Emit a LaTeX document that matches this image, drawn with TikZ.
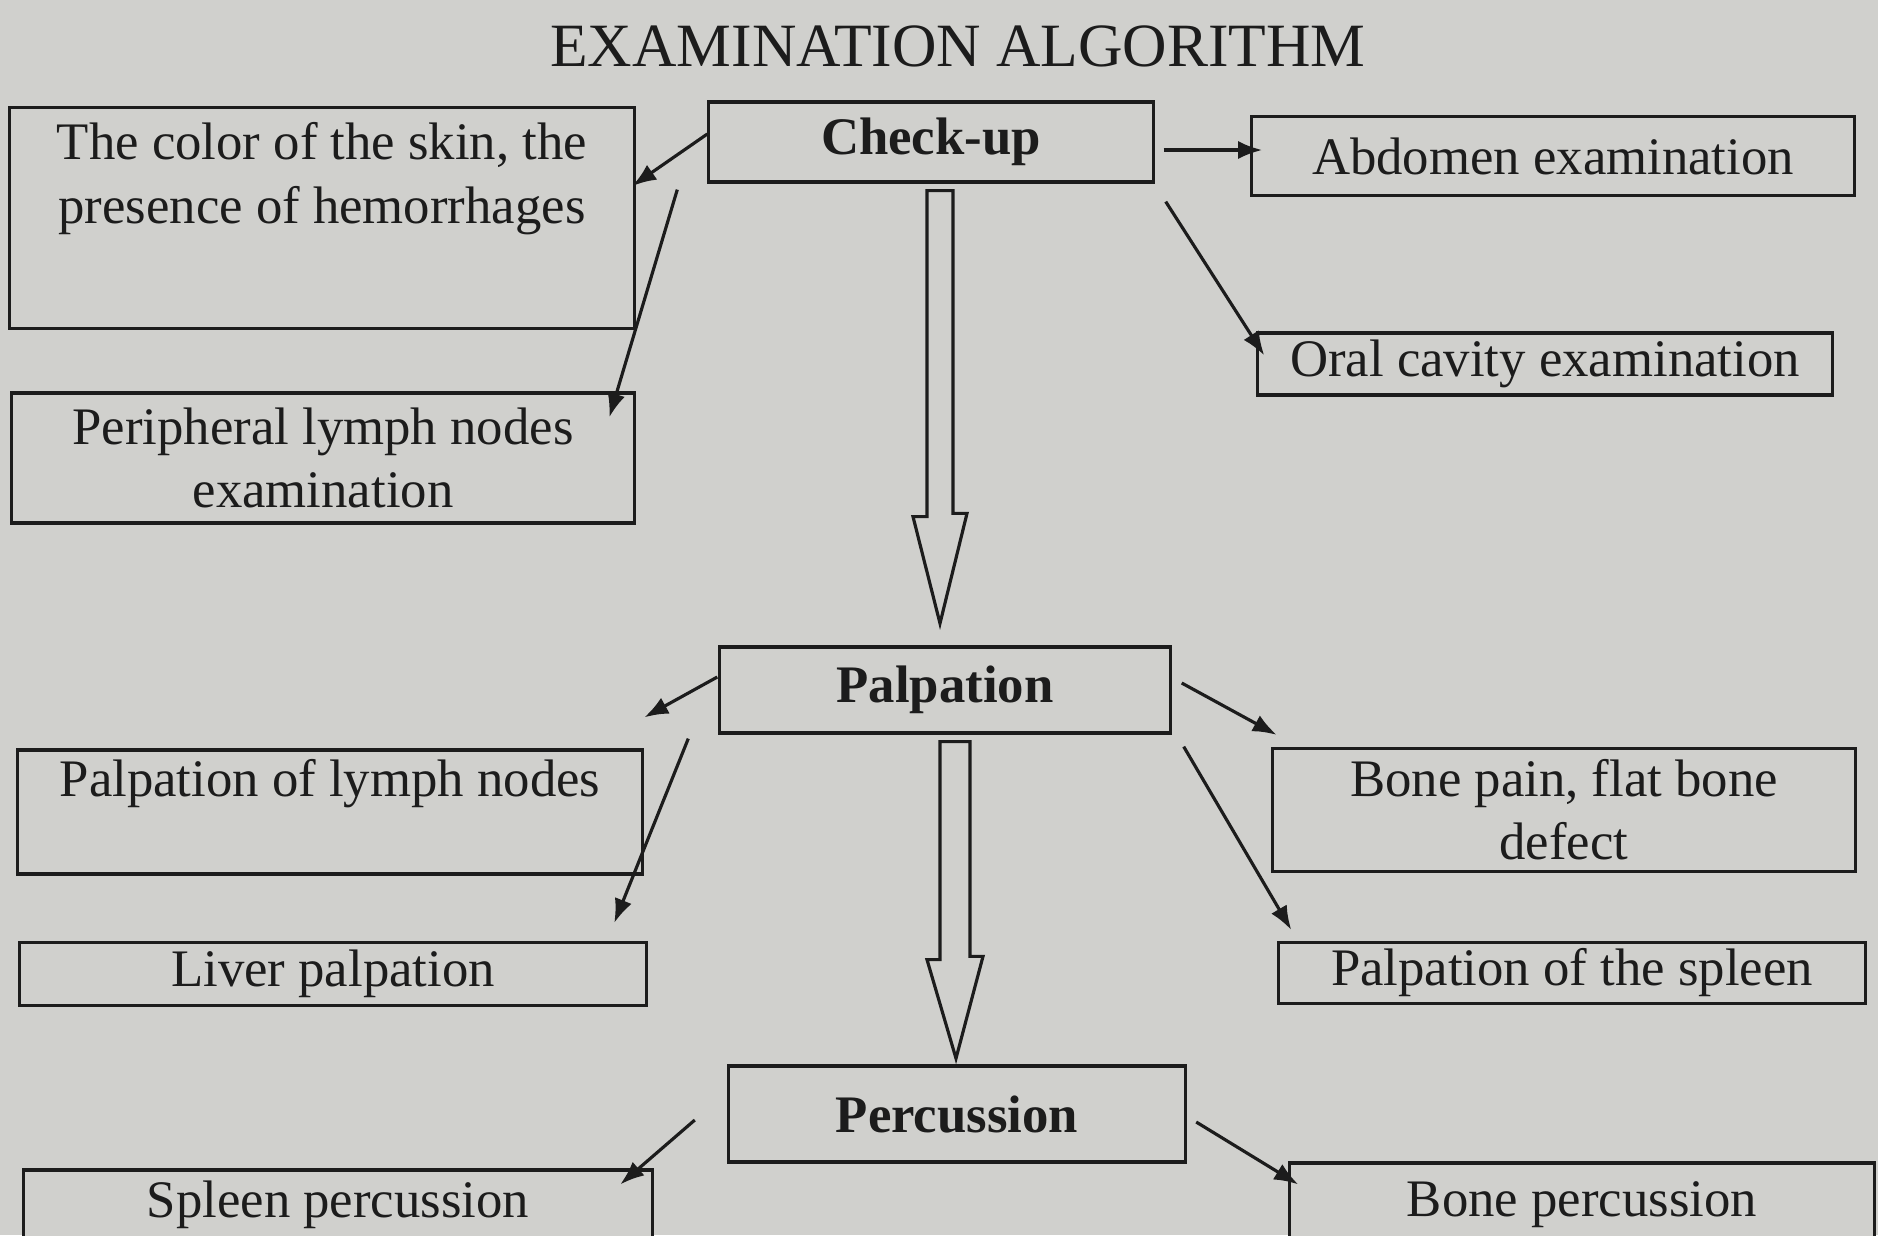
\documentclass[tikz,border=0pt]{standalone}
\usepackage{fontspec}
\setmainfont{Liberation Serif}
\usepackage{xcolor}
\usepackage{tikz}
\usetikzlibrary{arrows.meta,calc}
\definecolor{paper}{RGB}{208,208,205}
\definecolor{ink}{RGB}{28,28,28}

\begin{document}
\begin{tikzpicture}[
  x=0.01cm, y=-0.01cm,
  box/.style={draw=ink, line width=0.9pt, rectangle, fill=paper, inner sep=0pt, align=center, text=ink, font=\fontsize{15}{18}\selectfont},
  boldbox/.style={box, font=\bfseries\fontsize{15}{18}\selectfont},
  boxtext/.style={inner sep=0pt, align=center, text=ink, font=\fontsize{15}{18}\selectfont},
  arrow/.style={-{Latex[length=2.4mm,width=1.8mm]}, line width=0.9pt, draw=ink},
  hollow/.style={draw=ink, line width=0.9pt, fill=paper, line join=miter}
]
\path[use as bounding box, fill=paper] (0,0) rectangle (1878,1235);
\clip (0,0) rectangle (1878,1235);

\node[text=ink, font=\fontsize{17.5}{21}\selectfont] (title) at (958,46) {EXAMINATION ALGORITHM};

\node[boldbox, minimum width=4.44cm, minimum height=0.80cm] (chk) at (931,142) {Check-up};
\node[box, minimum width=6.25cm, minimum height=2.21cm] (skin) at (322,218) {};
\node[boxtext, anchor=north] (skintxt) at ($(skin.north)+(0,16)$) {The color of the skin, the\\presence of hemorrhages};
\node[box, minimum width=6.23cm, minimum height=1.30cm] (per) at (323,458) {Peripheral lymph nodes\\examination};
\node[box, minimum width=6.02cm, minimum height=0.79cm] (abd) at (1553,156) {Abdomen examination};
\node[box, minimum width=5.74cm, minimum height=0.62cm] (oral) at (1545,364) {Oral cavity examination};

\node[boldbox, minimum width=4.50cm, minimum height=0.86cm] (palp) at (945,690) {Palpation};
\node[box, minimum width=6.25cm, minimum height=1.24cm] (plym) at (330,812) {};
\node[boxtext, anchor=north] (plymtxt) at ($(plym.north)+(0,10)$) {Palpation of lymph nodes};
\node[box, minimum width=6.27cm, minimum height=0.63cm] (liver) at (333,974) {Liver palpation};
\node[box, minimum width=5.83cm, minimum height=1.23cm] (bone) at (1564,810) {Bone pain, flat bone\\defect};
\node[box, minimum width=5.86cm, minimum height=0.61cm] (splp) at (1572,973) {Palpation of the spleen};

\node[boldbox, minimum width=4.57cm, minimum height=0.96cm] (perc) at (957,1114) {Percussion};
\node[box, minimum width=6.29cm, minimum height=0.70cm] (sperc) at (338,1205) {Spleen percussion};
\node[box, minimum width=5.84cm, minimum height=0.84cm] (bperc) at (1582,1205) {Bone percussion};

\draw[arrow] ($(chk.west)+(0,-8)$) -- ($(skin.east)+(-4,-32)$);
\draw[arrow] ($(chk.south west)+(-30,6)$) -- ($(per.north east)+(-27,26)$);
\draw[arrow] ($(chk.east)+(9,8)$) -- ($(abd.west)+(12,-6)$);
\draw[arrow] ($(chk.south east)+(11,18)$) -- ($(oral.north west)+(8,24)$);
\draw[arrow] ($(palp.west)+(-1,-13)$) -- ($(plym.north east)+(0,-31)$);
\draw[arrow] ($(palp.south west)+(-30,4)$) -- ($(liver.north east)+(-34,-18)$);
\draw[arrow] ($(palp.east)+(10,-7)$) -- ($(bone.north west)+(6,-12)$);
\draw[arrow] ($(palp.south east)+(12,12)$) -- ($(splp.north west)+(14,-11)$);
\draw[arrow] ($(perc.west)+(-32,6)$) -- ($(sperc.north east)+(-34,16)$);
\draw[arrow] ($(perc.east)+(9,8)$) -- ($(bperc.north west)+(10,23)$);

\draw[hollow] ($(chk.south)+(-4,7)$) -- ++(0,326) -- ++(-14,0) -- ($(palp.north)+(-5,-22)$)
  -- ++(27,-110) -- ++(-14,0) -- ($(chk.south)+(22,7)$) -- cycle;
\draw[hollow] ($(palp.south)+(-5,7)$) -- ++(0,218) -- ++(-13,0) -- ($(perc.north)+(-1,-6)$)
  -- ++(27,-102) -- ++(-13,0) -- ($(palp.south)+(25,7)$) -- cycle;
\end{tikzpicture}
\end{document}
